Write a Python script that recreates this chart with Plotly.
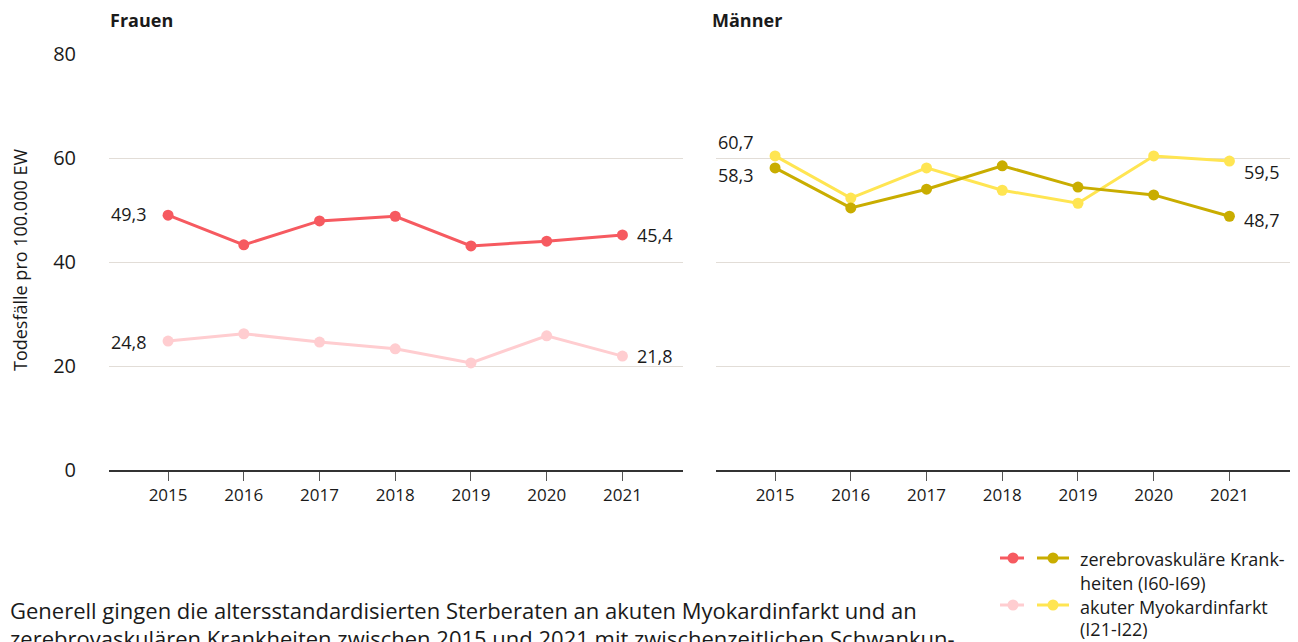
import plotly.graph_objects as go

years = [2015, 2016, 2017, 2018, 2019, 2020, 2021]
frauen_zerebro = [49.0, 43.3, 47.9, 48.8, 43.1, 44.0, 45.2]
frauen_myokard = [24.8, 26.2, 24.6, 23.3, 20.6, 25.8, 21.9]
maenner_zerebro = [58.1, 50.4, 54.0, 58.5, 54.4, 52.9, 48.8]
maenner_myokard = [60.4, 52.3, 58.1, 53.8, 51.3, 60.4, 59.4]
y_ticks = [0, 20, 40, 60, 80]

label_frauen_zerebro = ("49,3", "45,4")
label_frauen_myokard = ("24,8", "21,8")
label_maenner_zerebro = ("58,3", "48,7")
label_maenner_myokard = ("60,7", "59,5")

C_RED = "#f65a60"
C_PINK = "#ffcdd0"
C_GOLD = "#c9ad00"
C_YELLOW = "#ffe552"
FONT = "Open Sans"
TXT = "#1a1a1a"

# page body has an 8px margin; map reference pixel positions into figure fractions
OFF = 8
W, H = 1290, 634
def px_x(p):
    return (p - OFF) / W
def px_y(p):
    return 1 - (p - OFF) / H

fig = go.Figure()

def add_series(x, y, color, xa, ya):
    fig.add_trace(go.Scatter(
        x=x, y=y, mode="lines+markers", xaxis=xa, yaxis=ya,
        line=dict(color=color, width=3),
        marker=dict(color=color, size=11),
        showlegend=False, hoverinfo="skip", cliponaxis=False))

add_series(years, frauen_myokard, C_PINK, "x", "y")
add_series(years, frauen_zerebro, C_RED, "x", "y")
add_series(years, maenner_myokard, C_YELLOW, "x2", "y2")
add_series(years, maenner_zerebro, C_GOLD, "x2", "y2")

xr = [2014.22, 2021.8]
ydom = [px_y(470), px_y(54)]
common_x = dict(range=xr, tickmode="array", tickvals=years, ticktext=[str(v) for v in years],
                showgrid=False, zeroline=False, showline=True, linecolor="#333333", linewidth=1.5,
                ticks="outside", ticklen=9, tickcolor="#555555", tickwidth=1.2, automargin=False,
                tickfont=dict(family=FONT, size=17, color=TXT), fixedrange=True)
common_y = dict(range=[0, 80], domain=ydom, tickmode="array", tickvals=y_ticks,
                showgrid=True, gridcolor="#e2ddd7", gridwidth=1, zeroline=False, automargin=False,
                showline=False, ticks="", fixedrange=True)

fig.update_layout(
    width=W, height=H,
    margin=dict(l=0, r=0, t=0, b=0, pad=0, autoexpand=False),
    paper_bgcolor="white", plot_bgcolor="white",
    font=dict(family=FONT, color=TXT),
    xaxis=dict(domain=[px_x(109), px_x(683)], anchor="y", **common_x),
    yaxis=dict(anchor="x", showticklabels=True, ticklabelstandoff=32,
               tickfont=dict(family=FONT, size=20, color=TXT), **common_y),
    xaxis2=dict(domain=[px_x(716), px_x(1290)], anchor="y2", **common_x),
    yaxis2=dict(anchor="x2", showticklabels=False, **common_y),
    showlegend=False,
)

ann = []
def lab(text, x, y, xa, ya, side, yshift=0):
    ann.append(dict(text=text, x=x, y=y, xref=xa, yref=ya, showarrow=False,
                    xanchor="right" if side == "left" else "left",
                    xshift=-19 if side == "left" else 13, yshift=yshift,
                    font=dict(family=FONT, size=18, color=TXT)))

lab(label_frauen_zerebro[0], years[0], frauen_zerebro[0], "x", "y", "left", 1)
lab(label_frauen_zerebro[1], years[-1], frauen_zerebro[-1], "x", "y", "right", 0)
lab(label_frauen_myokard[0], years[0], frauen_myokard[0], "x", "y", "left", -1)
lab(label_frauen_myokard[1], years[-1], frauen_myokard[-1], "x", "y", "right", 0)
lab(label_maenner_myokard[0], years[0], maenner_myokard[0], "x2", "y2", "left", 14)
lab(label_maenner_zerebro[0], years[0], maenner_zerebro[0], "x2", "y2", "left", -7)
lab(label_maenner_myokard[1], years[-1], maenner_myokard[-1], "x2", "y2", "right", -11)
lab(label_maenner_zerebro[1], years[-1], maenner_zerebro[-1], "x2", "y2", "right", -4)

ann.append(dict(text="<b>Frauen</b>", x=px_x(108), y=px_y(20), xref="paper", yref="paper",
                xanchor="left", yanchor="middle", showarrow=False,
                font=dict(family=FONT, size=18, color=TXT)))
ann.append(dict(text="<b>Männer</b>", x=px_x(710), y=px_y(20), xref="paper", yref="paper",
                xanchor="left", yanchor="middle", showarrow=False,
                font=dict(family=FONT, size=18, color=TXT)))
ann.append(dict(text="Todesfälle pro 100.000 EW", x=px_x(20), y=px_y(260), xref="paper", yref="paper",
                xanchor="center", yanchor="middle", textangle=-90, showarrow=False,
                font=dict(family=FONT, size=18, color=TXT)))

shapes = []
leg_rows = [(558, C_RED, C_GOLD), (605, C_PINK, C_YELLOW)]
for yy, c1, c2 in leg_rows:
    for x0, x1, cx, c in [(1000, 1024, 1013, c1), (1037, 1069, 1053, c2)]:
        shapes.append(dict(type="line", xref="paper", yref="paper", x0=px_x(x0), x1=px_x(x1),
                           y0=px_y(yy), y1=px_y(yy), line=dict(color=c, width=3)))
        shapes.append(dict(type="circle", xref="paper", yref="paper", x0=px_x(cx - 5.5), x1=px_x(cx + 5.5),
                           y0=px_y(yy + 5.5), y1=px_y(yy - 5.5), fillcolor=c, line=dict(width=0)))
legend_lines = [("zerebrovaskuläre Krank-", 559), ("heiten (I60-I69)", 583),
                ("akuter Myokardinfarkt", 607), ("(I21-I22)", 629)]
for t, yy in legend_lines:
    ann.append(dict(text=t, x=px_x(1078), y=px_y(yy), xref="paper", yref="paper",
                    xanchor="left", yanchor="middle", showarrow=False,
                    font=dict(family=FONT, size=18, color=TXT)))

body = ["Generell gingen die altersstandardisierten Sterberaten an akuten Myokardinfarkt und an",
        "zerebrovaskulären Krankheiten zwischen 2015 und 2021 mit zwischenzeitlichen Schwankun-"]
for i, t in enumerate(body):
    ann.append(dict(text=t, x=px_x(8), y=px_y(610 + 28 * i), xref="paper", yref="paper",
                    xanchor="left", yanchor="middle", showarrow=False,
                    font=dict(family=FONT, size=22, color=TXT)))

fig.update_layout(annotations=ann, shapes=shapes)
fig.write_html("out.html")
